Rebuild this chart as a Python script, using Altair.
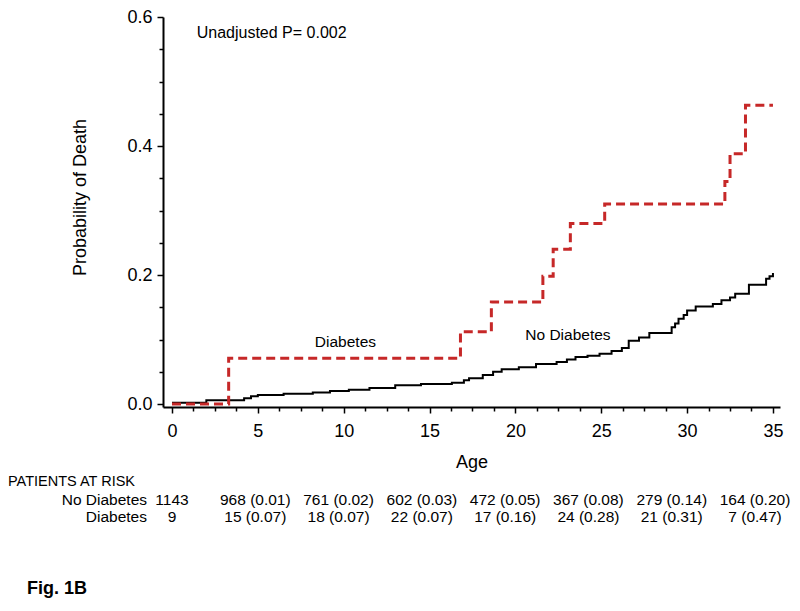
import altair as alt
import pandas as pd

FONT = "Liberation Sans, Arial, Helvetica, sans-serif"

# ---- data ----
nd_age = [0, 2.0, 4.2, 4.6, 5.0, 6.5, 8.2, 9.2, 10.3, 11.5, 13.0, 14.5, 16.3, 17.0, 17.3,
          18.1, 18.7, 19.2, 20.2, 21.2, 22.4, 23.0, 23.5, 24.2, 24.9, 25.6, 26.2, 26.6,
          27.2, 27.8, 29.1, 29.3, 29.5, 29.8, 30.0, 30.5, 31.5, 32.0, 32.5, 32.8, 33.6,
          34.6, 34.8, 35.0]
nd_prob = [0.002, 0.006, 0.009, 0.012, 0.014, 0.016, 0.018, 0.020, 0.022, 0.025, 0.029,
           0.031, 0.033, 0.037, 0.040, 0.045, 0.050, 0.054, 0.057, 0.062, 0.065, 0.069,
           0.073, 0.075, 0.078, 0.082, 0.087, 0.098, 0.103, 0.110, 0.119, 0.125, 0.132,
           0.138, 0.145, 0.151, 0.155, 0.161, 0.165, 0.171, 0.185, 0.194, 0.198, 0.203]

d_age = [0, 3.3, 16.8, 18.6, 21.6, 22.2, 23.2, 25.2, 32.2, 32.5, 33.4, 35.0]
d_prob = [0.0, 0.071, 0.112, 0.158, 0.198, 0.240, 0.280, 0.310, 0.345, 0.388, 0.463, 0.463]

risk_ages = [0, 5, 10, 15, 20, 25, 30, 35]
nd_risk = ["1143", "968 (0.01)", "761 (0.02)", "602 (0.03)", "472 (0.05)",
           "367 (0.08)", "279 (0.14)", "164 (0.20)"]
d_risk = ["9", "15 (0.07)", "18 (0.07)", "22 (0.07)", "17 (0.16)",
          "24 (0.28)", "21 (0.31)", "7 (0.47)"]

x_major = [0, 5, 10, 15, 20, 25, 30, 35]
x_minor = [i * 1.25 for i in range(29) if (i * 1.25) % 5 != 0]
y_major = [0.0, 0.2, 0.4, 0.6]
y_minor = [round(i * 0.05, 2) for i in range(13) if i % 4 != 0]

pval_text = ["Unadjusted P= 0.002"]
pval_x = [1.44]
pval_y = [0.575]
curve_text = ["Diabetes", "No Diabetes"]
curve_x = [10.1, 23.06]
curve_y = [0.0956, 0.1064]

# ---- tables ----
nd_df = pd.DataFrame({"age": nd_age, "prob": nd_prob})
d_df = pd.DataFrame({"age": d_age, "prob": d_prob})
risk_df = pd.DataFrame({
    "tx": risk_ages * 2,
    "row": [1] * len(risk_ages) + [2] * len(risk_ages),
    "label": nd_risk + d_risk,
})
pval_df = pd.DataFrame({"x": pval_x, "y": pval_y, "t": pval_text})
curve_df = pd.DataFrame({"x": curve_x, "y": curve_y, "t": curve_text})

XS = alt.Scale(domain=[-0.524, 35.41], nice=False, zero=False)
YS = alt.Scale(domain=[-0.00465, 0.6], nice=False, zero=False)
TXS = alt.Scale(domain=[0, 35], range=[9, 592], nice=False, zero=False)
TYS = alt.Scale(domain=[0, 2], range=[465, 500], nice=False, zero=False)

W, H = 617, 390

no_diab = alt.Chart(nd_df).mark_line(interpolate="step-after", color="black", strokeWidth=2).encode(
    x=alt.X("age:Q", scale=XS, axis=alt.Axis(
        values=x_major, orient="bottom", title="Age", tickSize=6, labelPadding=9,
        labelFontSize=18, titleFontSize=18, titleFontWeight="normal", titlePadding=13,
        domainWidth=2, tickWidth=1.5)),
    y=alt.Y("prob:Q", scale=YS, axis=alt.Axis(
        values=y_major, orient="left", format=".1f", title="Probability of Death",
        tickSize=6, labelPadding=5, labelFontSize=18, titleFontSize=18,
        titleFontWeight="normal", titlePadding=37, titleY=180,
        domainWidth=2, tickWidth=1.5)),
)

diab = alt.Chart(d_df).mark_line(interpolate="step-after", color="#c62828", strokeWidth=3,
                                 strokeDash=[9, 5]).encode(
    x=alt.X("age:Q", scale=XS, axis=alt.Axis(
        values=x_minor, orient="bottom", labels=False, domain=False, title=None,
        tickSize=4, tickWidth=1.5)),
    y=alt.Y("prob:Q", scale=YS, axis=alt.Axis(
        values=y_minor, orient="left", labels=False, domain=False, title=None,
        tickSize=4, tickWidth=1.5)),
)

pval = alt.Chart(pval_df).mark_text(fontSize=16, font=FONT, align="left", baseline="middle",
                                    color="black").encode(
    x=alt.X("x:Q", scale=XS, axis=None),
    y=alt.Y("y:Q", scale=YS, axis=None),
    text="t:N",
)
curve_lab = alt.Chart(curve_df).mark_text(fontSize=15.5, font=FONT, align="center", baseline="middle",
                                          color="black").encode(
    x=alt.X("x:Q", scale=XS, axis=None),
    y=alt.Y("y:Q", scale=YS, axis=None),
    text="t:N",
)

table = alt.Chart(risk_df).mark_text(fontSize=15.5, font=FONT, baseline="middle", color="black").encode(
    x=alt.X("tx:Q", scale=TXS, axis=None),
    y=alt.Y("row:Q", scale=TYS, axis=None),
    text="label:N",
)

hdr = alt.Chart(pd.DataFrame({"t": ["PATIENTS AT RISK"]})).mark_text(
    fontSize=14.5, font=FONT, align="left", baseline="middle", color="black").encode(
    x=alt.value(-155), y=alt.value(465), text="t:N")
rowlab = alt.Chart(pd.DataFrame({"t": ["No Diabetes", "Diabetes"], "row": [1, 2]})).mark_text(
    fontSize=15.5, font=FONT, align="right", baseline="middle", color="black").encode(
    x=alt.value(-16),
    y=alt.Y("row:Q", scale=TYS, axis=None),
    text="t:N")
fig = alt.Chart(pd.DataFrame({"t": ["Fig. 1B"]})).mark_text(
    fontSize=18, font=FONT, fontWeight="bold", align="left", baseline="middle", color="black").encode(
    x=alt.value(-136), y=alt.value(572), text="t:N")

chart = alt.layer(no_diab, diab, pval, curve_lab, table, hdr, rowlab, fig).resolve_scale(
    x="independent", y="independent"
).properties(
    width=W, height=H,
    autosize=alt.AutoSizeParams(type="none"),
    padding={"left": 155, "top": 9, "right": 12, "bottom": 195},
).configure_view(stroke=None).configure_axis(
    grid=False, domainColor="black", tickColor="black", labelColor="black",
    titleColor="black", labelFont=FONT, titleFont=FONT,
)

chart.save("out.html", embed_options={"renderer": "svg", "actions": False})
